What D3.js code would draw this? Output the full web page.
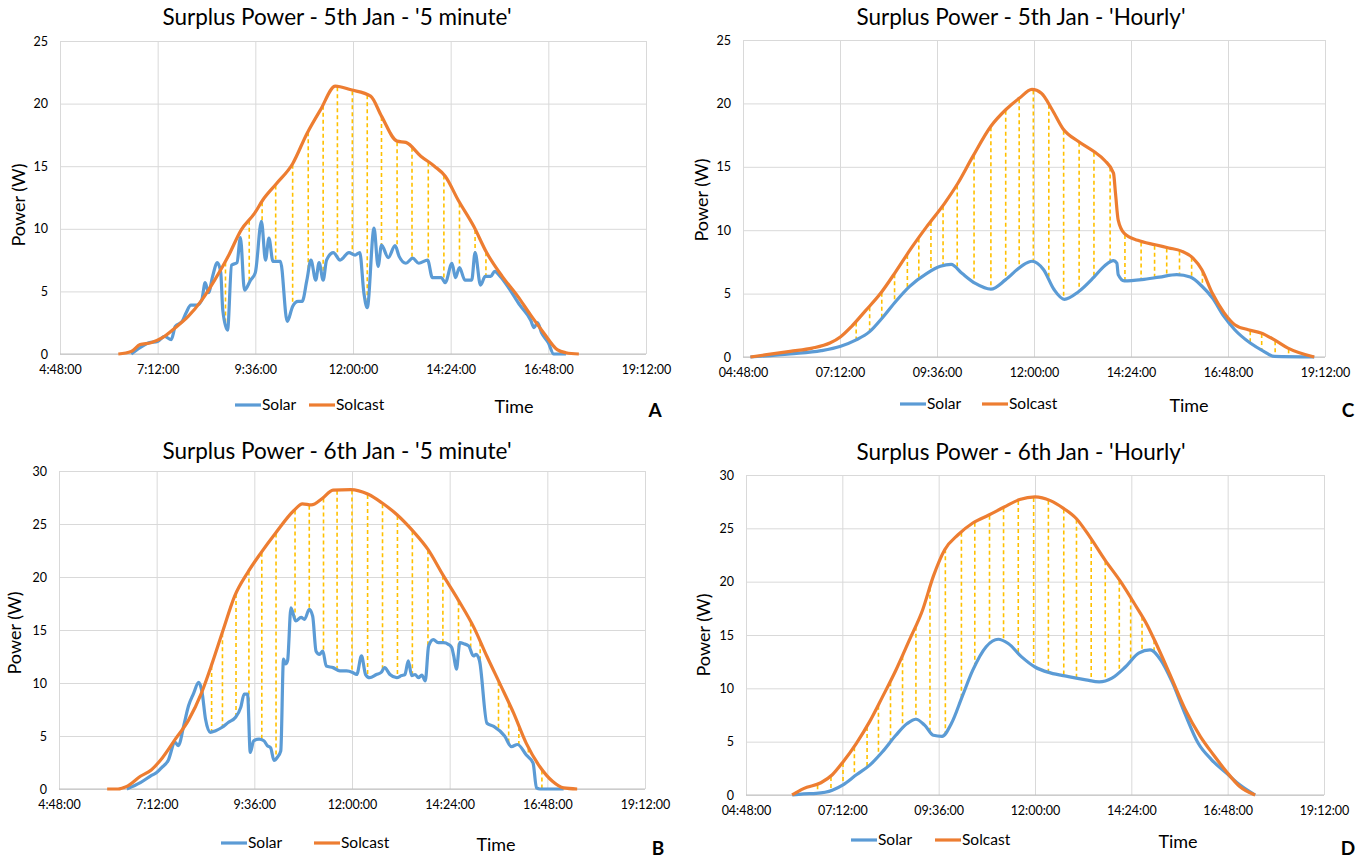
<!DOCTYPE html>
<html>
<head>
<meta charset="utf-8">
<script src="https://cdn.jsdelivr.net/npm/d3@7"></script>
<style>
	body { margin: 0; background: #fff; }
	svg { display: block; font-family: Lato, 'Open Sans', sans-serif; }
</style>
</head>
<body>
<svg id="svg" width="1363" height="860"></svg>
<script>
// data stuffs - [time, watts]
const jan5MinSolar = [
	['6:33', 0], ['6:46', 0.5], ['6:59', 0.9], ['7:12', 1.0], ['7:22', 1.4], ['7:32', 1.15], ['7:38', 2.2],
	['7:48', 2.6], ['7:54', 3.3], ['8:01', 3.9], ['8:10', 3.9], ['8:17', 4.3], ['8:22', 5.7], ['8:27', 4.9],
	['8:33', 6.2], ['8:40', 7.3], ['8:45', 6.5], ['8:48', 3.5], ['8:55', 1.9], ['9:01', 7.1], ['9:09', 7.3],
	['9:14', 9.3], ['9:20', 5.1], ['9:29', 5.9], ['9:36', 6.5], ['9:45', 10.6], ['9:51', 7.5], ['9:56', 9.25],
	['10:02', 7.4], ['10:13', 7.4], ['10:23', 2.6], ['10:31', 3.8], ['10:39', 4.2], ['10:45', 4.2], ['10:52', 5.9],
	['10:58', 7.5], ['11:05', 5.9], ['11:10', 7.3], ['11:16', 5.9], ['11:21', 7.5], ['11:31', 8.1], ['11:41', 7.5],
	['11:54', 8.1], ['12:03', 7.9], ['12:10', 8.1], ['12:16', 4.9], ['12:21', 3.7], ['12:31', 10.05], ['12:37', 7.0],
	['12:42', 8.7], ['12:52', 7.7], ['13:02', 8.65], ['13:08', 7.8], ['13:18', 7.25], ['13:28', 7.65], ['13:37', 7.25],
	['13:50', 7.5], ['13:57', 6.1], ['14:10', 6.1], ['14:16', 5.7], ['14:26', 7.25], ['14:31', 6.1], ['14:37', 6.9],
	['14:45', 5.9], ['14:55', 5.9], ['15:00', 8.1], ['15:08', 5.5], ['15:15', 6.2], ['15:23', 6.2], ['15:29', 6.6],
	['15:37', 6.2], ['15:50', 5.25], ['16:06', 3.9], ['16:22', 2.7], ['16:27', 2.1], ['16:32', 2.5], ['16:38', 1.7],
	['16:48', 0.9], ['16:56', 0], ['17:14', 0]
];
const jan5MinSolcast = [
	['6:14', 0], ['6:33', 0.2], ['6:46', 0.75], ['7:02', 0.9], ['7:19', 1.3], ['7:38', 2.1], ['7:57', 3.0],
	['8:17', 4.3], ['8:36', 5.9], ['8:56', 7.8], ['9:15', 9.9], ['9:35', 11.25], ['9:47', 12.3], ['10:07', 13.6],
	['10:31', 15.2], ['10:52', 17.6], ['11:12', 19.5], ['11:34', 21.4], ['11:57', 21.1], ['12:26', 20.6],
	['12:42', 19.0], ['13:05', 17.0], ['13:18', 16.9], ['13:40', 15.8], ['14:00', 15.0], ['14:16', 14.2],
	['14:35', 12.3], ['14:58', 10.2], ['15:17', 8.1], ['15:40', 6.2], ['16:03', 4.6], ['16:22', 3.1],
	['16:41', 1.7], ['17:01', 0.35], ['17:14', 0.1], ['17:33', 0]
];
const jan5MinDrops = ['8:52', '9:27', '9:46', '10:06', '10:31', '10:54', '11:16', '11:37', '11:59', '12:21',
	'12:42', '13:05', '13:27', '13:51', '14:14', '14:37', '15:00', '15:16'];

const jan6MinSolar = [
	['6:28', 0], ['6:48', 0.6], ['7:05', 1.3], ['7:12', 1.55], ['7:19', 2.0], ['7:29', 2.7], ['7:39', 4.4],
	['7:44', 4.1], ['7:52', 6.0], ['7:59', 7.85], ['8:06', 8.95], ['8:14', 10.05], ['8:19', 9.1], ['8:24', 6.6],
	['8:31', 5.35], ['8:39', 5.5], ['8:48', 5.8], ['8:58', 6.3], ['9:08', 6.75], ['9:16', 7.7], ['9:21', 8.95],
	['9:26', 8.95], ['9:30', 3.45], ['9:35', 4.55], ['9:43', 4.7], ['9:50', 4.55], ['9:55', 4.1], ['10:00', 3.9],
	['10:05', 2.7], ['10:10', 3.0], ['10:15', 3.6], ['10:19', 12.25], ['10:22', 11.8], ['10:25', 12.1],
	['10:30', 17.1], ['10:37', 15.85], ['10:45', 16.2], ['10:50', 16.0], ['10:57', 16.95], ['11:02', 16.3],
	['11:07', 13.0], ['11:12', 12.7], ['11:17', 13.0], ['11:22', 11.6], ['11:32', 11.45], ['11:42', 11.15],
	['11:52', 11.15], ['12:01', 11.0], ['12:07', 10.8], ['12:14', 12.55], ['12:20', 10.8], ['12:26', 10.5],
	['12:36', 10.8], ['12:43', 11.0], ['12:48', 11.45], ['12:56', 10.8], ['13:06', 10.5], ['13:13', 10.7],
	['13:18', 10.8], ['13:23', 12.1], ['13:28', 10.7], ['13:33', 10.8], ['13:38', 10.5], ['13:43', 10.75],
	['13:48', 10.2], ['13:53', 13.5], ['14:00', 14.1], ['14:07', 13.8], ['14:15', 13.8], ['14:22', 13.65],
	['14:27', 13.35], ['14:30', 12.55], ['14:34', 11.3], ['14:39', 13.8], ['14:45', 13.7], ['14:52', 13.5],
	['14:59', 12.55], ['15:03', 12.7], ['15:08', 12.1], ['15:19', 6.2], ['15:29', 5.9], ['15:45', 5.0],
	['15:55', 4.0], ['16:04', 4.2], ['16:17', 3.2], ['16:27', 2.45], ['16:32', 0.1], ['16:37', 0], ['17:12', 0]
];
const jan6MinSolcast = [
	['5:59', 0], ['6:15', 0], ['6:28', 0.25], ['6:48', 1.2], ['7:04', 1.8], ['7:20', 2.9], ['7:39', 4.65],
	['7:59', 6.5], ['8:18', 9.05], ['8:34', 11.9], ['8:50', 15.0], ['9:07', 18.2], ['9:26', 20.4], ['9:46', 22.3],
	['10:08', 24.2], ['10:34', 26.25], ['10:47', 26.9], ['11:00', 26.8], ['11:16', 27.4], ['11:32', 28.2],
	['11:58', 28.25], ['12:24', 27.8], ['12:44', 27.0], ['13:06', 25.9], ['13:29', 24.4], ['13:52', 22.6],
	['14:14', 20.2], ['14:37', 17.8], ['15:00', 15.2], ['15:19', 12.5], ['15:39', 9.8], ['15:58', 7.2],
	['16:17', 4.3], ['16:37', 2.1], ['16:56', 0.7], ['17:12', 0.1], ['17:32', 0]
];
const jan6MinDrops = ['8:33', '8:49', '9:09', '9:28', '9:47', '10:08', '10:36', '10:57', '11:18', '11:38',
	'12:00', '12:23', '12:45', '13:07', '13:29', '13:52', '14:14', '14:37', '14:55', '15:09', '15:36', '15:51',
	'16:06', '16:20', '16:40'];

const jan5HourSolar = [
	['4:59', 0], ['5:58', 0.25], ['6:44', 0.5], ['7:13', 0.85], ['7:36', 1.35], ['7:56', 2.0], ['8:15', 3.1],
	['8:35', 4.4], ['8:55', 5.55], ['9:21', 6.6], ['9:41', 7.15], ['9:57', 7.3], ['10:13', 6.6], ['10:33', 5.8],
	['10:56', 5.35], ['11:18', 6.1], ['11:41', 7.15], ['11:57', 7.55], ['12:14', 6.9], ['12:30', 5.3],
	['12:45', 4.55], ['13:06', 5.15], ['13:29', 6.3], ['13:45', 7.2], ['13:58', 7.6], ['14:03', 7.4],
	['14:05', 6.5], ['14:14', 6.0], ['14:40', 6.1], ['15:06', 6.3], ['15:32', 6.5], ['15:52', 6.3],
	['16:09', 5.6], ['16:25', 4.65], ['16:42', 3.2], ['16:58', 2.15], ['17:21', 1.1], ['17:41', 0.45],
	['17:57', 0.05], ['18:56', 0]
];
const jan5HourSolcast = [
	['4:59', 0], ['5:58', 0.45], ['6:31', 0.7], ['6:57', 1.1], ['7:13', 1.6], ['7:29', 2.4], ['7:49', 3.6],
	['8:12', 5.0], ['8:35', 6.75], ['8:58', 8.6], ['9:21', 10.3], ['9:47', 12.1], ['10:07', 13.7], ['10:29', 15.8],
	['10:56', 18.2], ['11:18', 19.5], ['11:38', 20.4], ['11:57', 21.1], ['12:11', 20.8], ['12:27', 19.5],
	['12:43', 18.0], ['13:06', 17.0], ['13:29', 16.2], ['13:45', 15.5], ['13:58', 14.5], ['14:01', 12.9],
	['14:05', 10.8], ['14:14', 9.75], ['14:34', 9.2], ['15:00', 8.85], ['15:20', 8.6], ['15:39', 8.35],
	['15:56', 7.8], ['16:09', 6.9], ['16:25', 5.0], ['16:42', 3.5], ['16:58', 2.55], ['17:18', 2.15],
	['17:37', 1.9], ['17:57', 1.35], ['18:17', 0.7], ['18:56', 0]
];
const jan5HourDrops = ['7:36', '7:56', '8:14', '8:33', '8:52', '9:09', '9:27', '9:45', '10:06', '10:31',
	'10:56', '11:18', '11:38', '11:59', '12:22', '12:44', '13:07', '13:29', '13:53', '14:15', '14:39', '14:59',
	'15:17', '15:36', '15:54', '16:10', '17:21', '17:38', '17:58', '18:18'];

const jan6HourSolar = [
	['5:57', 0], ['6:14', 0.1], ['6:33', 0.15], ['6:57', 0.45], ['7:13', 0.95], ['7:33', 1.9], ['7:53', 2.8],
	['8:12', 4.05], ['8:32', 5.6], ['8:49', 6.7], ['9:02', 7.1], ['9:15', 6.55], ['9:28', 5.6], ['9:41', 5.5],
	['9:55', 6.7], ['10:11', 9.2], ['10:27', 11.7], ['10:47', 13.9], ['11:05', 14.6], ['11:20', 14.2],
	['11:40', 12.95], ['12:00', 12.0], ['12:23', 11.45], ['12:50', 11.1], ['13:16', 10.8], ['13:36', 10.6],
	['13:55', 10.95], ['14:15', 12.0], ['14:35', 13.3], ['14:52', 13.6], ['15:08', 12.65], ['15:25', 10.6],
	['15:44', 7.65], ['16:04', 4.85], ['16:24', 3.3], ['16:47', 2.0], ['17:06', 0.95], ['17:29', 0]
];
const jan6HourSolcast = [
	['5:57', 0], ['6:14', 0.6], ['6:40', 1.15], ['6:57', 1.9], ['7:13', 3.1], ['7:33', 4.85], ['7:53', 6.9],
	['8:12', 9.2], ['8:32', 11.7], ['8:52', 14.5], ['9:12', 17.35], ['9:28', 20.5], ['9:45', 23.0],
	['10:05', 24.4], ['10:27', 25.5], ['10:51', 26.25], ['11:14', 27.0], ['11:37', 27.7], ['12:00', 27.95],
	['12:23', 27.6], ['12:42', 26.9], ['13:02', 25.9], ['13:22', 24.2], ['13:45', 22.0], ['14:08', 20.0],
	['14:28', 18.0], ['14:48', 15.9], ['15:01', 14.2], ['15:21', 11.4], ['15:44', 8.1], ['16:07', 5.5],
	['16:27', 3.75], ['16:46', 2.2], ['17:06', 0.8], ['17:29', 0]
];
const jan6HourDrops = ['6:35', '6:55', '7:13', '7:30', '7:49', '8:06', '8:24', '8:42', '9:02', '9:23',
	'9:46', '10:10', '10:30', '10:52', '11:13', '11:35', '11:58', '12:20', '12:43', '13:02', '13:24', '13:45',
	'14:06', '14:23', '14:40', '14:58'];

const timeTicks = ['4:48', '7:12', '9:36', '12:00', '14:24', '16:48', '19:12'];
const seriesNames = ['Solar', 'Solcast'];

// layout per panel
const panels = [
	{ title: "Surplus Power - 5th Jan - '5 minute'", solar: jan5MinSolar, solcast: jan5MinSolcast, drops: jan5MinDrops,
		yMax: 25, pad: false, left: 60, right: 646, top: 41, bottom: 354, titleX: 337, titleY: 25,
		yLabX: 19, yLabY: 205, legY: 405, solarX: 235, solcastX: 309, timeX: 514, letter: 'A', letterX: 655, letterY: 417 },
	{ title: "Surplus Power - 6th Jan - '5 minute'", solar: jan6MinSolar, solcast: jan6MinSolcast, drops: jan6MinDrops,
		yMax: 30, pad: false, left: 59, right: 645, top: 471, bottom: 789, titleX: 337, titleY: 459,
		yLabX: 15, yLabY: 633, legY: 843, solarX: 221, solcastX: 314, timeX: 496, letter: 'B', letterX: 658, letterY: 855 },
	{ title: "Surplus Power - 5th Jan - 'Hourly'", solar: jan5HourSolar, solcast: jan5HourSolcast, drops: jan5HourDrops,
		yMax: 25, pad: true, left: 743, right: 1325, top: 40, bottom: 357, titleX: 1021, titleY: 25,
		yLabX: 702, yLabY: 200, legY: 404, solarX: 900, solcastX: 982, timeX: 1189, letter: 'C', letterX: 1348, letterY: 417 },
	{ title: "Surplus Power - 6th Jan - 'Hourly'", solar: jan6HourSolar, solcast: jan6HourSolcast, drops: jan6HourDrops,
		yMax: 30, pad: true, left: 746, right: 1324, top: 475, bottom: 795, titleX: 1021, titleY: 460,
		yLabX: 704, yLabY: 635, legY: 840, solarX: 851, solcastX: 935, timeX: 1178, letter: 'D', letterX: 1348, letterY: 855 }
];

const colors = { Solar: '#5b9bd5', Solcast: '#ed7d31' };

function toMin(t) {
	const [h, m] = t.split(':').map(Number);
	return h * 60 + m;
}

function fmtTime(mins, pad) {
	const h = Math.floor(mins / 60);
	const m = mins % 60;
	return `${pad ? String(h).padStart(2, '0') : h}:${String(m).padStart(2, '0')}:00`;
}

const svg = d3.select('#svg');

panels.forEach((p) => {
	const g = svg.append('g');

	const xscale = d3
		.scaleLinear()
		.domain([toMin(timeTicks[0]), toMin(timeTicks[timeTicks.length - 1])])
		.range([p.left, p.right]);

	const yscale = d3.scaleLinear().domain([0, p.yMax]).range([p.bottom, p.top]);

	// gridlines
	g.append('g')
		.attr('transform', `translate(0, ${p.bottom})`)
		.call(d3.axisBottom(xscale)
			.tickValues(timeTicks.map(toMin))
			.tickSize(-(p.bottom - p.top))
			.tickFormat((d) => fmtTime(d, p.pad)))
		.call((a) => a.select('.domain').remove())
		.call((a) => a.selectAll('line').attr('stroke', '#d9d9d9'))
		.call((a) => a.selectAll('text')
			.attr('dy', '1.35em')
			.attr('fill', '#000')
			.attr('font-size', 12.5)
			.attr('font-family', 'Lato'));

	g.append('g')
		.attr('transform', `translate(${p.left}, 0)`)
		.call(d3.axisLeft(yscale)
			.ticks(p.yMax / 5)
			.tickSize(-(p.right - p.left))
			.tickPadding(12))
		.call((a) => a.select('.domain').remove())
		.call((a) => a.selectAll('line').attr('stroke', '#d9d9d9'))
		.call((a) => a.selectAll('text')
			.attr('fill', '#000')
			.attr('font-size', 12.5)
			.attr('font-family', 'Lato'));

	// bottom axis line
	g.append('line')
		.attr('x1', p.left).attr('x2', p.right)
		.attr('y1', p.bottom).attr('y2', p.bottom)
		.attr('stroke', '#bfbfbf');

	const line = d3
		.line()
		.x((d) => xscale(toMin(d[0])))
		.y((d) => yscale(d[1]))
		.curve(d3.curveMonotoneX);

	const solarPath = g.append('path')
		.datum(p.solar)
		.attr('d', line)
		.attr('fill', 'none')
		.attr('stroke', colors.Solar)
		.attr('stroke-width', 3.2)
		.attr('stroke-linejoin', 'round');

	const solcastPath = g.append('path')
		.datum(p.solcast)
		.attr('d', line)
		.attr('fill', 'none')
		.attr('stroke', colors.Solcast)
		.attr('stroke-width', 3.2)
		.attr('stroke-linejoin', 'round');

	// find y on drawn path for a given x
	function sampler(path) {
		const node = path.node();
		const len = node.getTotalLength();
		const pts = [];
		for (let l = 0; l <= len; l += 0.5) pts.push(node.getPointAtLength(l));
		return (x) => {
			let best = null;
			pts.forEach((pt) => {
				if (best === null || Math.abs(pt.x - x) < Math.abs(best.x - x)) best = pt;
			});
			return best.y;
		};
	}
	const ySolar = sampler(solarPath);
	const ySolcast = sampler(solcastPath);

	g.insert('g', 'path')
		.selectAll('line')
		.data(p.drops)
		.enter()
		.append('line')
		.attr('x1', (d) => xscale(toMin(d)))
		.attr('x2', (d) => xscale(toMin(d)))
		.attr('y1', (d) => ySolcast(xscale(toMin(d))) + 1)
		.attr('y2', (d) => ySolar(xscale(toMin(d))) - 1)
		.attr('stroke', '#ffc000')
		.attr('stroke-width', 1.6)
		.attr('stroke-dasharray', '4,3');

	// title
	g.append('text')
		.attr('x', p.titleX)
		.attr('y', p.titleY)
		.attr('text-anchor', 'middle')
		.attr('font-size', 22.5)
		.attr('fill', '#000')
		.text(p.title);

	g.append('text')
		.attr('transform', `translate(${p.yLabX}, ${p.yLabY}) rotate(-90)`)
		.attr('text-anchor', 'middle')
		.attr('dy', '0.35em')
		.attr('font-size', 18)
		.attr('fill', '#000')
		.text('Power (W)');

	// legend
	const leg = g.append('g');
	seriesNames.forEach((name) => {
		const lx = name === 'Solar' ? p.solarX : p.solcastX;
		leg.append('line')
			.attr('x1', lx).attr('x2', lx + 26)
			.attr('y1', p.legY).attr('y2', p.legY)
			.attr('stroke', colors[name])
			.attr('stroke-width', 3.2);
		leg.append('text')
			.attr('x', lx + 27)
			.attr('y', p.legY)
			.attr('dy', '0.35em')
			.attr('font-size', 15.5)
			.attr('fill', '#000')
			.text(name);
	});

	g.append('text')
		.attr('x', p.timeX)
		.attr('y', p.legY + 2)
		.attr('dy', '0.35em')
		.attr('text-anchor', 'middle')
		.attr('font-size', 18)
		.attr('fill', '#000')
		.text('Time');

	g.append('text')
		.attr('x', p.letterX)
		.attr('y', p.letterY)
		.attr('text-anchor', 'middle')
		.attr('font-size', 19)
		.attr('font-weight', 'bold')
		.attr('fill', '#000')
		.text(p.letter);
});
</script>
</body>
</html>
